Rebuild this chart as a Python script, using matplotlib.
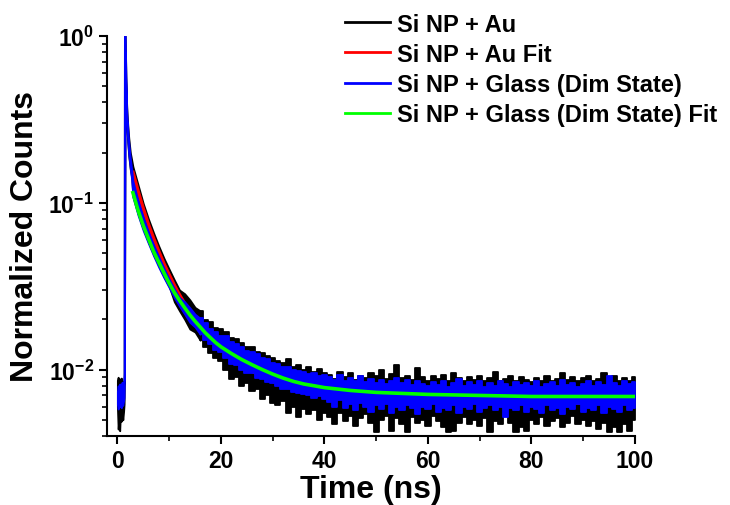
import numpy as np
import matplotlib
matplotlib.use("Agg")
import matplotlib.pyplot as plt
from matplotlib.lines import Line2D
from matplotlib.ticker import LogLocator, MultipleLocator

plt.rcParams["font.family"] = ["Liberation Sans", "DejaVu Sans"]
plt.rcParams["font.weight"] = "bold"
plt.rcParams["mathtext.fontset"] = "custom"
plt.rcParams["mathtext.rm"] = "Liberation Sans:bold"
plt.rcParams["mathtext.it"] = "Liberation Sans:bold"
plt.rcParams["mathtext.bf"] = "Liberation Sans:bold"

LABELS = ["Si NP + Au", "Si NP + Au Fit",
          "Si NP + Glass (Dim State)", "Si NP + Glass (Dim State) Fit"]
COLORS = ["#000000", "#ff0000", "#0000ff", "#00ff00"]

# time grid of the measured traces (ns): pre-peak, peak, then 1 ns steps
t_trace = ([0.0, 0.15, 0.3, 0.45, 0.6, 0.75, 0.9, 1.05, 1.2, 1.3]
           + [1.36, 1.52, 1.6, 1.68, 1.76, 1.86, 2.0, 2.2, 2.5, 2.75]
           + list(range(3, 101)))

# measured traces, read as lower / upper edge of the noisy band
au_lo = ([0.0060, 0.0044, 0.0052, 0.0043, 0.0055, 0.0049, 0.0058, 0.0050, 0.0056, 0.0062]
         + [0.0085, 0.78, 0.53, 0.40, 0.32, 0.27, 0.23, 0.19, 0.158, 0.143]
         + [0.110, 0.086, 0.070, 0.058, 0.049, 0.042, 0.036, 0.0315, 0.0255, 0.0225]
         + [0.0200, 0.0175, 0.0168, 0.0150, 0.0136, 0.0125, 0.0118, 0.0112]
         + [0.0100, 0.0088, 0.0090, 0.0080, 0.0083, 0.0074, 0.0076, 0.0067, 0.0070, 0.0063]
         + [0.0061, 0.0065, 0.0055, 0.0060, 0.0052, 0.0058, 0.0054, 0.0057, 0.0050, 0.0055]
         + [0.0052, 0.0047, 0.0055, 0.0049, 0.0053, 0.0046, 0.0051, 0.0054, 0.0048, 0.0042,
            0.0050, 0.0053, 0.0043, 0.0051, 0.0047, 0.0042, 0.0052, 0.0048, 0.0050, 0.0046,
            0.0053, 0.0049, 0.0045, 0.0042, 0.0043, 0.0048, 0.0052, 0.0047, 0.0050, 0.0046,
            0.0051, 0.0042, 0.0049, 0.0047, 0.0053, 0.0048, 0.0042, 0.0045, 0.0043, 0.0050,
            0.0047, 0.0052, 0.0046, 0.0049, 0.0051, 0.0045, 0.0048, 0.0053, 0.0047, 0.0050,
            0.0046, 0.0049, 0.0044, 0.0048, 0.0042, 0.0045, 0.0042, 0.0047, 0.0043, 0.0050])
au_hi = ([0.0086, 0.0090, 0.0078, 0.0088, 0.0081, 0.0089, 0.0077, 0.0085, 0.0080, 0.0090]
         + [1.0, 1.0, 0.70, 0.52, 0.41, 0.35, 0.295, 0.245, 0.200, 0.182]
         + [0.165, 0.128, 0.099, 0.080, 0.066, 0.055, 0.0465, 0.040, 0.0345, 0.030]
         + [0.0285, 0.0262, 0.0236, 0.0225, 0.0198, 0.0192, 0.0178, 0.0174]
         + [0.0168, 0.0155, 0.0152, 0.0145, 0.0137, 0.0136, 0.0128, 0.0126, 0.0121, 0.0117]
         + [0.0113, 0.0109, 0.0115, 0.0104, 0.0106, 0.0100, 0.0104, 0.0097, 0.0101, 0.0096]
         + [0.0093, 0.0088, 0.0097, 0.0090, 0.0095, 0.0087, 0.0092, 0.0089, 0.0096, 0.0091,
            0.0100, 0.0088, 0.0094, 0.0106, 0.0089, 0.0092, 0.0087, 0.0102, 0.0090, 0.0085,
            0.0091, 0.0088, 0.0093, 0.0086, 0.0096, 0.0089, 0.0085, 0.0090, 0.0087, 0.0092,
            0.0086, 0.0089, 0.0097, 0.0085, 0.0088, 0.0091, 0.0086, 0.0090, 0.0087, 0.0084,
            0.0089, 0.0086, 0.0092, 0.0085, 0.0088, 0.0095, 0.0087, 0.0090, 0.0086, 0.0089,
            0.0092, 0.0086, 0.0088, 0.0096, 0.0087, 0.0091, 0.0085, 0.0089, 0.0086, 0.0090])
glass_lo = ([0.0062, 0.0058, 0.0064, 0.0060, 0.0066, 0.0059, 0.0063, 0.0061, 0.0065, 0.0068]
            + [0.0090, 0.80, 0.55, 0.41, 0.33, 0.28, 0.235, 0.195, 0.160, 0.138]
            + [0.108, 0.084, 0.068, 0.057, 0.048, 0.041, 0.0355, 0.031, 0.027, 0.024]
            + [0.0215, 0.0192, 0.0180, 0.0163, 0.0150, 0.0142, 0.0131, 0.0128]
            + [0.0117, 0.0108, 0.0106, 0.0099, 0.0096, 0.0095, 0.0089, 0.0088, 0.0084, 0.0083]
            + [0.0080, 0.0076, 0.0077, 0.0073, 0.0072, 0.0071, 0.0070, 0.0068, 0.0069, 0.0067]
            + [0.0064, 0.0060, 0.0066, 0.0059, 0.0062, 0.0057, 0.0063, 0.0060, 0.0056, 0.0061,
               0.0058, 0.0062, 0.0055, 0.0060, 0.0057, 0.0061, 0.0059, 0.0054, 0.0060, 0.0058,
               0.0062, 0.0056, 0.0059, 0.0057, 0.0061, 0.0055, 0.0060, 0.0058, 0.0062, 0.0056,
               0.0059, 0.0061, 0.0057, 0.0060, 0.0052, 0.0059, 0.0057, 0.0061, 0.0056, 0.0060,
               0.0058, 0.0055, 0.0061, 0.0057, 0.0059, 0.0054, 0.0060, 0.0058, 0.0062, 0.0056,
               0.0059, 0.0057, 0.0061, 0.0055, 0.0060, 0.0058, 0.0056, 0.0061, 0.0057, 0.0059])
glass_hi = ([0.0074, 0.0080, 0.0072, 0.0082, 0.0076, 0.0079, 0.0084, 0.0077, 0.0083, 0.0095]
            + [1.0, 1.0, 0.68, 0.50, 0.39, 0.33, 0.28, 0.23, 0.185, 0.160]
            + [0.135, 0.103, 0.082, 0.067, 0.056, 0.0475, 0.0405, 0.035, 0.0305, 0.027]
            + [0.0255, 0.0235, 0.0215, 0.0203, 0.0190, 0.0176, 0.0168, 0.0160]
            + [0.0158, 0.0147, 0.0143, 0.0137, 0.0130, 0.0127, 0.0124, 0.0117, 0.0116, 0.0110]
            + [0.0108, 0.0104, 0.0103, 0.0099, 0.0098, 0.0097, 0.0094, 0.0095, 0.0092, 0.0093]
            + [0.0090, 0.0087, 0.0093, 0.0086, 0.0089, 0.0085, 0.0091, 0.0084, 0.0088, 0.0083,
               0.0087, 0.0082, 0.0086, 0.0089, 0.0083, 0.0087, 0.0081, 0.0085, 0.0082, 0.0080,
               0.0084, 0.0081, 0.0086, 0.0079, 0.0083, 0.0088, 0.0080, 0.0084, 0.0081, 0.0085,
               0.0079, 0.0083, 0.0080, 0.0086, 0.0082, 0.0079, 0.0084, 0.0081, 0.0083, 0.0080,
               0.0085, 0.0079, 0.0082, 0.0084, 0.0080, 0.0087, 0.0081, 0.0083, 0.0079, 0.0082,
               0.0086, 0.0080, 0.0084, 0.0081, 0.0091, 0.0083, 0.0080, 0.0085, 0.0082, 0.0084])

# fitted curves
t_au_fit = [3, 4, 5, 6, 7, 8, 9, 10, 11, 12, 13, 14, 15, 16, 18, 20, 22, 24, 26, 28,
            30, 33, 36, 40, 45, 50, 60, 70, 80, 90, 100]
au_fit = [0.152, 0.117, 0.092, 0.074, 0.061, 0.051, 0.043, 0.037, 0.032, 0.028,
          0.0248, 0.0222, 0.020, 0.0182, 0.0154, 0.0134, 0.0119, 0.0107, 0.0098, 0.0091,
          0.0085, 0.0079, 0.0075, 0.0071, 0.0068, 0.0066, 0.0065, 0.0064, 0.0064, 0.0063,
          0.0063]
t_glass_fit = [3, 4, 5, 6, 7, 8, 9, 10, 11, 12, 13, 14, 15, 16, 17, 18, 19, 20, 22, 24,
               26, 28, 30, 32, 34, 36, 38, 40, 45, 50, 55, 60, 70, 80, 90, 100]
glass_fit = [0.115, 0.090, 0.073, 0.061, 0.051, 0.044, 0.038, 0.033, 0.029, 0.026,
             0.0235, 0.0213, 0.0195, 0.0180, 0.0166, 0.0155, 0.0145, 0.0137, 0.0125, 0.0115,
             0.0107, 0.0100, 0.0094, 0.0089, 0.0085, 0.0082, 0.0080, 0.0078, 0.0075, 0.0073,
             0.0072, 0.0071, 0.0070, 0.0069, 0.0069, 0.0069]


def draw_trace(ax, lo, hi, color, z):
    # smooth outline through the fast decay, stepped (spiky) outline in the noisy tail
    k = t_trace.index(16)
    ax.fill_between(t_trace[:k + 1], lo[:k + 1], hi[:k + 1],
                    color=color, lw=1.3, zorder=z)
    ax.fill_between(t_trace[k:], lo[k:], hi[k:], step="mid",
                    color=color, lw=1.3, zorder=z)


fig = plt.figure(figsize=(7.3, 5.06), dpi=100)
ax = fig.add_axes([0.1466, 0.1364, 0.7233, 0.7905])

# drawing order as in the legend: data, fit, data, fit
draw_trace(ax, au_lo, au_hi, COLORS[0], 1)
ax.plot(t_au_fit, au_fit, color=COLORS[1], lw=2.6, zorder=2)
draw_trace(ax, glass_lo, glass_hi, COLORS[2], 3)
ax.plot(t_glass_fit, glass_fit, color=COLORS[3], lw=2.6, zorder=4)

ax.set_yscale("log")
ax.set_xlim(-2, 100)
ax.set_ylim(0.004, 1.0)
ax.xaxis.set_major_locator(MultipleLocator(20))
ax.xaxis.set_minor_locator(MultipleLocator(10))
ax.yaxis.set_major_locator(LogLocator(base=10, numticks=10))
ax.yaxis.set_minor_locator(LogLocator(base=10, subs=np.arange(2, 10), numticks=10))

for side in ["top", "right"]:
    ax.spines[side].set_visible(False)
for side in ["left", "bottom"]:
    ax.spines[side].set_linewidth(1.5)
ax.tick_params(which="major", direction="out", length=6, width=1.5, labelsize=16.5)
ax.tick_params(which="minor", direction="out", length=3.5, width=1.2)
for lab in ax.get_xticklabels() + ax.get_yticklabels():
    lab.set_fontweight("bold")

ax.set_xlabel("Time (ns)", fontsize=23, fontweight="bold", labelpad=1)
ax.set_ylabel("Normalized Counts", fontsize=23, fontweight="bold", labelpad=6)

handles = [Line2D([], [], color=c, lw=2) for c in COLORS]
fig.legend(handles, LABELS, loc="upper left", bbox_to_anchor=(0.444, 1.015),
           frameon=False, handlelength=1.9, handletextpad=0.3,
           labelspacing=0.3, prop={"weight": "bold", "size": 17})

fig.savefig("out.png", dpi=100)
